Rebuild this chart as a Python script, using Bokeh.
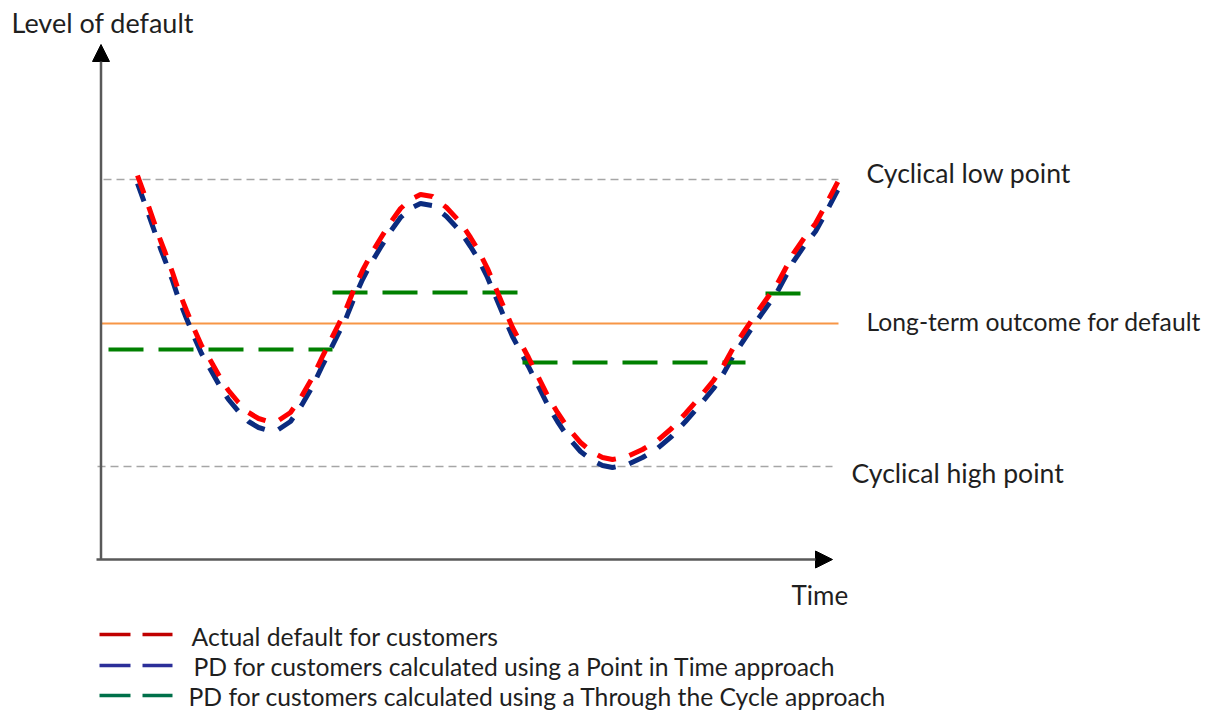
from bokeh.plotting import figure
from bokeh.models import Range1d, Arrow, NormalHead
from bokeh.core.properties import value
from bokeh.embed import file_html
from bokeh.resources import INLINE

# ---------------- data (screen-style units) ----------------
# Actual default for customers (red)
time_actual = [137, 145, 153, 160, 165, 172, 178, 186, 193, 201, 210, 219, 228, 238, 248,
               258, 268, 278, 290, 301, 312, 321, 330, 338, 345, 353, 362, 371, 380, 390,
               400, 410, 420, 432, 446, 460, 470, 478, 487, 495, 503, 512, 520, 528, 538,
               548, 557, 567, 580, 592, 602, 612, 627, 642, 657, 671, 685, 699, 713, 723,
               733, 743, 753, 765, 777, 785, 793, 804, 815, 826, 838]
level_actual = [175, 197, 220, 240, 253, 272, 290, 310, 327, 345, 360, 376, 390, 402, 412,
                418, 421, 420, 412, 396, 377, 358, 340, 324, 310, 290, 270, 253, 238, 222,
                208, 199, 194, 196, 207, 222, 237, 250, 268, 287, 306, 327, 342, 357, 377,
                397, 412, 427, 442, 452, 457, 459, 456, 449, 440, 428, 413, 397, 380, 365,
                347, 332, 317, 300, 283, 268, 253, 237, 223, 203, 180]

# PD, Point in Time approach (blue)
time_pit = [137, 145, 153, 160, 165, 172, 178, 186, 193, 201, 210, 219, 228, 238, 248,
            258, 268, 278, 290, 301, 312, 321, 330, 338, 345, 353, 362, 371, 380, 390,
            400, 410, 420, 432, 446, 460, 470, 478, 487, 495, 503, 512, 520, 528, 538,
            548, 557, 567, 580, 592, 602, 612, 627, 642, 657, 671, 685, 699, 713, 723,
            733, 743, 753, 765, 777, 785, 793, 804, 815, 826, 838]
level_pit = [183, 205, 228, 248, 261, 280, 298, 318, 335, 353, 369, 385, 399, 411, 421,
             427, 430, 429, 421, 405, 386, 367, 349, 333, 319, 299, 279, 262, 247, 231,
             217, 208, 203, 205, 216, 231, 246, 259, 277, 296, 315, 336, 351, 366, 386,
             406, 421, 436, 451, 460, 465, 467, 464, 457, 448, 436, 421, 405, 388, 373,
             355, 340, 325, 308, 291, 276, 261, 245, 231, 211, 188]

# PD, Through the Cycle approach (green step segments)
ttc_start = [108, 332, 522, 765]
ttc_end = [332, 517, 745, 802]
ttc_level = [349, 292, 362, 293]

# reference levels
long_term_level = 323
cycle_low_level = 179
cycle_high_level = 466
ref_start = [103, 101, 97]
ref_end = [838, 838, 832]

# labels
axis_y_label = "Level of default"
axis_x_label = "Time"
ref_labels = ["Cyclical low point", "Long-term outcome for default", "Cyclical high point"]
legend_labels = ["Actual  default for customers",
                 "PD for customers calculated using a Point in Time approach",
                 "PD for customers calculated using a Through the Cycle approach"]

# ---------------- figure ----------------
FONT = value("Lato")
TXT = "#1f1f1f"

p = figure(width=1212, height=713, x_range=Range1d(0, 1212), y_range=Range1d(713, 0),
           output_backend="svg", toolbar_location=None, x_axis_type=None,
           y_axis_type=None, min_border=0)
p.grid.visible = False
p.outline_line_color = None
p.background_fill_color = "white"
p.border_fill_color = "white"

# grey dashed cyclical lines
p.segment(x0=ref_start[0], x1=ref_end[0], y0=cycle_low_level, y1=cycle_low_level,
          line_color="#a6a6a6", line_width=1.6, line_dash="8 5")
p.segment(x0=ref_start[2], x1=ref_end[2], y0=cycle_high_level, y1=cycle_high_level,
          line_color="#a6a6a6", line_width=1.6, line_dash="8 5")
# orange long-term line
p.segment(x0=ref_start[1], x1=ref_end[1], y0=long_term_level, y1=long_term_level,
          line_color="#f79646", line_width=2.2)

# axes with arrows
ax_col = "#595959"
p.add_layout(Arrow(x_start=100.5, y_start=559, x_end=100.5, y_end=44,
                   line_color=ax_col, line_width=2.5,
                   end=NormalHead(size=17, fill_color="black", line_color="black", line_width=1)))
p.add_layout(Arrow(x_start=96, y_start=559, x_end=832, y_end=559,
                   line_color=ax_col, line_width=2.5,
                   end=NormalHead(size=17, fill_color="black", line_color="black", line_width=1)))

# curves
p.line(time_pit, level_pit, line_color="#0b2b7f", line_width=5, line_dash="19 14")
p.segment(x0=ttc_start, x1=ttc_end, y0=ttc_level, y1=ttc_level,
          line_color="#008000", line_width=4, line_dash="35 15")
p.line(time_actual, level_actual, line_color="#ff0000", line_width=5, line_dash="19 14")

# texts (vertically centred)
p.text(x=[11], y=[22], text=[axis_y_label], text_font=FONT, text_font_size="27px",
       text_color=TXT, text_baseline="middle", text_align="left")
p.text(x=[791], y=[594], text=[axis_x_label], text_font=FONT, text_font_size="26px",
       text_color=TXT, text_baseline="middle", text_align="left")
p.text(x=[866, 851], y=[172, 472], text=[ref_labels[0], ref_labels[2]], text_font=FONT,
       text_font_size="26.6px", text_color=TXT, text_baseline="middle", text_align="left")
p.text(x=[866], y=[321], text=[ref_labels[1]], text_font=FONT,
       text_font_size="24.7px", text_color=TXT, text_baseline="middle", text_align="left")

# legend
leg_colors = ["#c00000", "#2b2f99", "#00704a"]
leg_y = [634, 665, 695]
leg_text_x = [191, 193, 188]
leg_mid = [636, 666, 696]
p.segment(x0=[99] * 3, x1=[172] * 3, y0=leg_y, y1=leg_y, line_color=leg_colors,
          line_width=3.5, line_dash="31 12")
p.text(x=leg_text_x, y=leg_mid, text=legend_labels, text_font=FONT,
       text_font_size="24.7px", text_color=TXT, text_baseline="middle", text_align="left")

open("out.html", "w").write(file_html(p, INLINE))
